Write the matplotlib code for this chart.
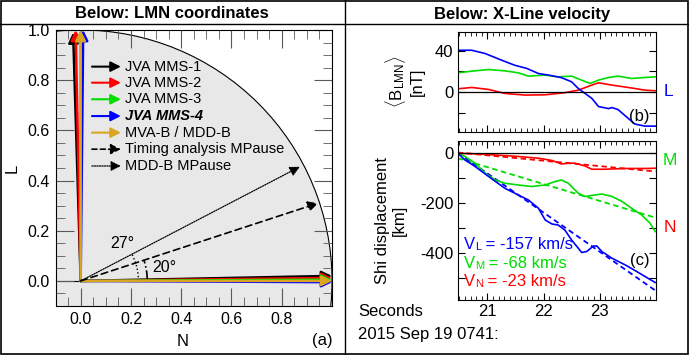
import numpy as np
import matplotlib
matplotlib.use("Agg")
import matplotlib.pyplot as plt
from matplotlib.patches import Circle, Arc, Rectangle
from matplotlib.lines import Line2D
from matplotlib.ticker import MultipleLocator

plt.rcParams['font.family'] = ['Liberation Sans', 'DejaVu Sans']
plt.rcParams['axes.unicode_minus'] = False
plt.rcParams['mathtext.fontset'] = 'custom'
plt.rcParams['mathtext.rm'] = 'Liberation Sans'
plt.rcParams['mathtext.it'] = 'Liberation Sans:italic'

# --- panel (a): LMN vectors ---
vec_names = ['JVA MMS-1', 'JVA MMS-2', 'JVA MMS-3', 'JVA MMS-4', 'MVA-B / MDD-B']
vec_colors = ['black', '#ff0000', '#00dd00', '#0000ff', '#daa520']
L_tips = [(-0.03, 0.99), (-0.02, 1.0), (0.0, 1.0), (0.01, 1.0), (0.0, 1.0)]
N_tips = [(1.0, 0.02), (1.0, 0.012), (1.0, 0.005), (1.0, -0.005), (1.0, 0.0)]
timing_tip = (0.945, 0.31)
mdd_tip = (0.872, 0.455)
angle_labels = ['27°', '20°']

# --- panel (b): <B_LMN> ---
tB_L = [20.47, 20.72, 20.96, 21.25, 21.49, 21.70, 21.91, 22.09, 22.32, 22.50, 22.62,
        22.74, 22.86, 22.98, 23.16, 23.22, 23.33, 23.51, 23.63, 23.81, 23.99]
B_L = [40.6, 40.6, 37.4, 31, 26, 23, 18, 16.5, 14, 10, 3.5,
       -1.3, -6, -14, -16, -15, -17, -25.5, -31, -33, -33]
tB_M = [20.47, 20.72, 21.02, 21.31, 21.55, 21.73, 22.03, 22.26, 22.50, 22.68, 22.83,
        22.98, 23.16, 23.33, 23.57, 23.81, 23.99]
B_M = [18.7, 20.3, 21.9, 20.6, 18.7, 15.5, 16.5, 14.8, 15.5, 11.6, 8.4,
       11.6, 14.2, 15.5, 13.2, 14.2, 14.8]
tB_N = [20.47, 20.72, 21.02, 21.31, 21.67, 22.03, 22.38, 22.62, 22.86, 22.98, 23.22,
        23.51, 23.81, 23.99]
B_N = [3.2, 4.5, 2.6, -1.3, -2.9, -2.6, -0.6, 1.9, 6.8, 9, 6.8, 4.5, 1.9, 1.3]

# --- panel (c): Shi displacement ---
tD_L = [20.47, 20.60, 20.78, 21.02, 21.31, 21.55, 21.73, 21.91, 22.03, 22.15, 22.26,
        22.38, 22.50, 22.62, 22.68, 22.77, 22.89, 22.95, 23.04, 23.22, 23.46, 23.63,
        23.81, 23.99]
D_L = [0, -27, -53, -93, -140, -167, -187, -220, -267, -283, -287,
       -307, -347, -380, -397, -393, -371, -371, -393, -420, -447, -469, -493, -517]
tD_M = [20.47, 20.60, 20.78, 20.96, 21.14, 21.31, 21.55, 21.79, 22.03, 22.21, 22.32,
        22.44, 22.62, 22.74, 22.92, 23.04, 23.22, 23.40, 23.57, 23.75, 23.90, 23.99]
D_M = [0, -13, -40, -80, -107, -120, -127, -133, -127, -113, -107,
       -120, -160, -173, -167, -163, -173, -193, -220, -247, -280, -313]
tD_N = [20.47, 20.84, 21.14, 21.55, 21.91, 22.15, 22.32, 22.44, 22.56, 22.74, 22.86,
        23.10, 23.46, 23.81, 23.99]
D_N = [0, -3, -7, -13, -20, -29, -43, -40, -40, -51, -64, -64, -61, -61, -60]
fit_t = [20.47, 24.0]
fit_L = [2, -550]
fit_M = [-20, -258]
fit_N = [3, -73]
vel_comp = ['L', 'M', 'N']
vel_text = [' = -157 km/s', ' = -68 km/s', ' = -23 km/s']

BLUE, GREEN, RED = '#0000ff', '#00dd00', '#ff0000'

fig = plt.figure(figsize=(6.89, 3.55), dpi=100)

# frame, dividers and titles
fig.add_artist(Rectangle((0.0015, 0.003), 0.997, 0.994, transform=fig.transFigure,
                         fill=False, lw=1.2, color='black'))
fig.add_artist(Line2D([0.5007, 0.5007], [0, 1], transform=fig.transFigure, color='black', lw=1))
fig.add_artist(Line2D([0, 1], [0.9324, 0.9324], transform=fig.transFigure, color='black', lw=1))
fig.text(172 / 689, 1 - 14 / 355, 'Below: LMN coordinates', ha='center', va='center',
         fontsize=12, fontweight='bold')
fig.text(522 / 689, 1 - 14 / 355, 'Below: X-Line velocity', ha='center', va='center',
         fontsize=12, fontweight='bold')

# ---------- panel (a) ----------
ax = fig.add_axes([0.0806, 0.138, 0.4013, 0.7775])
ax.set_xlim(-0.1, 1.0)
ax.set_ylim(-0.1, 1.0)
ax.add_patch(Circle((0, 0), 1.0, facecolor='#e8e8e8', edgecolor='black', lw=0.8, zorder=0))
ax.axhline(0, color='black', lw=0.8, zorder=1)

for tip, c in zip(L_tips, vec_colors):
    ax.annotate('', xy=tip, xytext=(0, 0),
                arrowprops=dict(arrowstyle='-|>', color=c, lw=1.8, mutation_scale=15,
                                shrinkA=0, shrinkB=0))
for tip, c in zip(N_tips, vec_colors):
    ax.annotate('', xy=tip, xytext=(0, 0),
                arrowprops=dict(arrowstyle='-|>', color=c, lw=1.8, mutation_scale=15,
                                shrinkA=0, shrinkB=0))
ax.annotate('', xy=timing_tip, xytext=(0, 0),
            arrowprops=dict(arrowstyle='-|>', color='black', lw=1.2, ls=(0, (4, 2.5)),
                            mutation_scale=15, shrinkA=0, shrinkB=0))
ax.annotate('', xy=mdd_tip, xytext=(0, 0),
            arrowprops=dict(arrowstyle='-|>', color='black', lw=0.9, ls=(0, (1, 1)),
                            mutation_scale=15, shrinkA=0, shrinkB=0))

ang_t = np.degrees(np.arctan2(timing_tip[1], timing_tip[0]))
ang_m = np.degrees(np.arctan2(mdd_tip[1], mdd_tip[0]))
ax.add_patch(Arc((0, 0), 0.46, 0.46, theta1=0, theta2=ang_m, color='black', lw=1, ls=':'))
ax.add_patch(Arc((0, 0), 0.53, 0.53, theta1=0, theta2=ang_t, color='black', lw=1.2, ls='-.'))
ax.text(0.165, 0.15, angle_labels[0], fontsize=11.5, va='center', ha='center')
ax.text(0.285, 0.055, angle_labels[1], fontsize=11.5, va='center')

# hand-drawn legend
leg_y = [0.854, 0.790, 0.724, 0.657, 0.591, 0.525, 0.458]
for i, (name, c) in enumerate(zip(vec_names, vec_colors)):
    ax.annotate('', xy=(0.16, leg_y[i]), xytext=(0.045, leg_y[i]),
                arrowprops=dict(arrowstyle='-|>', color=c, lw=1.5, mutation_scale=15,
                                shrinkA=0, shrinkB=0))
    if i == 3:
        ax.text(0.178, leg_y[i], name, fontsize=10.5, va='center', fontweight='bold', style='italic')
    else:
        ax.text(0.178, leg_y[i], name, fontsize=10.5, va='center')
ax.annotate('', xy=(0.16, leg_y[5]), xytext=(0.045, leg_y[5]),
            arrowprops=dict(arrowstyle='-|>', color='black', lw=1.2, ls=(0, (3, 2)),
                            mutation_scale=15, shrinkA=0, shrinkB=0))
ax.text(0.178, leg_y[5], 'Timing analysis MPause', fontsize=10.5, va='center')
ax.annotate('', xy=(0.16, leg_y[6]), xytext=(0.045, leg_y[6]),
            arrowprops=dict(arrowstyle='-|>', color='black', lw=0.9, ls=(0, (1, 1)),
                            mutation_scale=15, shrinkA=0, shrinkB=0))
ax.text(0.178, leg_y[6], 'MDD-B MPause', fontsize=10.5, va='center')

ax.set_xticks([0.0, 0.2, 0.4, 0.6, 0.8])
ax.set_yticks([0.0, 0.2, 0.4, 0.6, 0.8, 1.0])
ax.xaxis.set_minor_locator(MultipleLocator(0.05))
ax.yaxis.set_minor_locator(MultipleLocator(0.05))
ax.xaxis.set_major_formatter('{x:.1f}')
ax.yaxis.set_major_formatter('{x:.1f}')
ax.tick_params(which='both', direction='in', top=True, right=True, color='0.35', labelsize=11.5)
ax.tick_params(which='major', length=13, pad=4)
ax.tick_params(which='minor', length=6.5)
ax.set_xlabel('N', fontsize=12)
ax.set_ylabel('L', fontsize=12)
ax.xaxis.set_label_coords(0.46, -0.1)
ax.yaxis.set_label_coords(-0.13, 0.5)
fig.text(322 / 689, 1 - 340 / 355, '(a)', ha='center', va='center', fontsize=12)

# ---------- panel (b) ----------
axb = fig.add_axes([0.6643, 0.6273, 0.2874, 0.2817])
axb.plot(tB_M, B_M, color=GREEN, lw=1.2)
axb.plot(tB_N, B_N, color=RED, lw=1.2)
axb.plot(tB_L, B_L, color=BLUE, lw=1.2)
axb.axhline(0, color='black', lw=0.9)
axb.set_xlim(20.47, 24.0)
axb.set_ylim(-39, 58)
axb.set_yticks([-20, 0, 20, 40])
axb.set_yticklabels(['', '0', '', '40'])
axb.set_xticks([21, 22, 23])
axb.set_xticklabels([])
axb.xaxis.set_minor_locator(MultipleLocator(0.1))
axb.tick_params(which='both', direction='in', top=True, right=True, labelsize=12, pad=3)
axb.tick_params(which='major', length=5)
axb.tick_params(which='minor', length=3)
axb.set_ylabel('$\\langle$B$_\\mathregular{LMN}$$\\rangle$\n[nT]', fontsize=12)
axb.yaxis.set_label_coords(-0.165, 0.5)
axb.text(0.97, 0.16, '(b)', transform=axb.transAxes, ha='right', va='center', fontsize=12)
fig.text(668 / 689, 1 - 92 / 355, 'L', color=BLUE, ha='center', va='center', fontsize=12.5)

# ---------- panel (c) ----------
axc = fig.add_axes([0.6643, 0.1549, 0.2874, 0.4487])
axc.plot(fit_t, fit_N, color=RED, lw=1.3, ls=(0, (3, 2)))
axc.plot(fit_t, fit_M, color=GREEN, lw=1.3, ls=(0, (3, 2)))
axc.plot(fit_t, fit_L, color=BLUE, lw=1.3, ls=(0, (3, 2)))
axc.plot(tD_N, D_N, color=RED, lw=1.2)
axc.plot(tD_M, D_M, color=GREEN, lw=1.2)
axc.plot(tD_L, D_L, color=BLUE, lw=1.2)
axc.axhline(0, color='black', lw=0.9)
axc.set_xlim(20.47, 24.0)
axc.set_ylim(-587, 50)
axc.set_yticks([-500, -400, -300, -200, -100, 0])
axc.set_yticklabels(['', '-400', '', '-200', '', '0'])
axc.set_xticks([21, 22, 23])
axc.xaxis.set_minor_locator(MultipleLocator(0.1))
axc.tick_params(which='both', direction='in', top=True, right=True, labelsize=12, pad=3)
axc.tick_params(which='major', length=5)
axc.tick_params(which='minor', length=3)
axc.set_ylabel('Shi displacement\n[km]', fontsize=12)
axc.yaxis.set_label_coords(-0.255, 0.5)
axc.text(0.97, 0.25, '(c)', transform=axc.transAxes, ha='right', va='center', fontsize=12)

# velocity labels: V with a small component letter sitting on the baseline
for comp, txt, c, yy in zip(vel_comp, vel_text, [BLUE, GREEN, RED], [249, 268, 286]):
    tv = axc.text(464 / 689, 1 - yy / 355, 'V', color=c, ha='left', va='baseline',
                  fontsize=12, transform=fig.transFigure)
    tc = axc.annotate(comp, xy=(1, 0), xycoords=tv, ha='left', va='bottom', color=c,
                      fontsize=8, annotation_clip=False)
    axc.annotate(txt, xy=(1, 0), xycoords=(tc, tv), ha='left', va='bottom', color=c,
                 fontsize=12, annotation_clip=False)

fig.text(670 / 689, 1 - 160 / 355, 'M', color=GREEN, ha='center', va='center', fontsize=12.5)
fig.text(670 / 689, 1 - 228 / 355, 'N', color=RED, ha='center', va='center', fontsize=12.5)
fig.text(358 / 689, 1 - 312 / 355, 'Seconds', ha='left', va='center', fontsize=12)
fig.text(358 / 689, 1 - 334 / 355, '2015 Sep 19 0741:', ha='left', va='center', fontsize=12)

fig.savefig('out.png', dpi=100)
